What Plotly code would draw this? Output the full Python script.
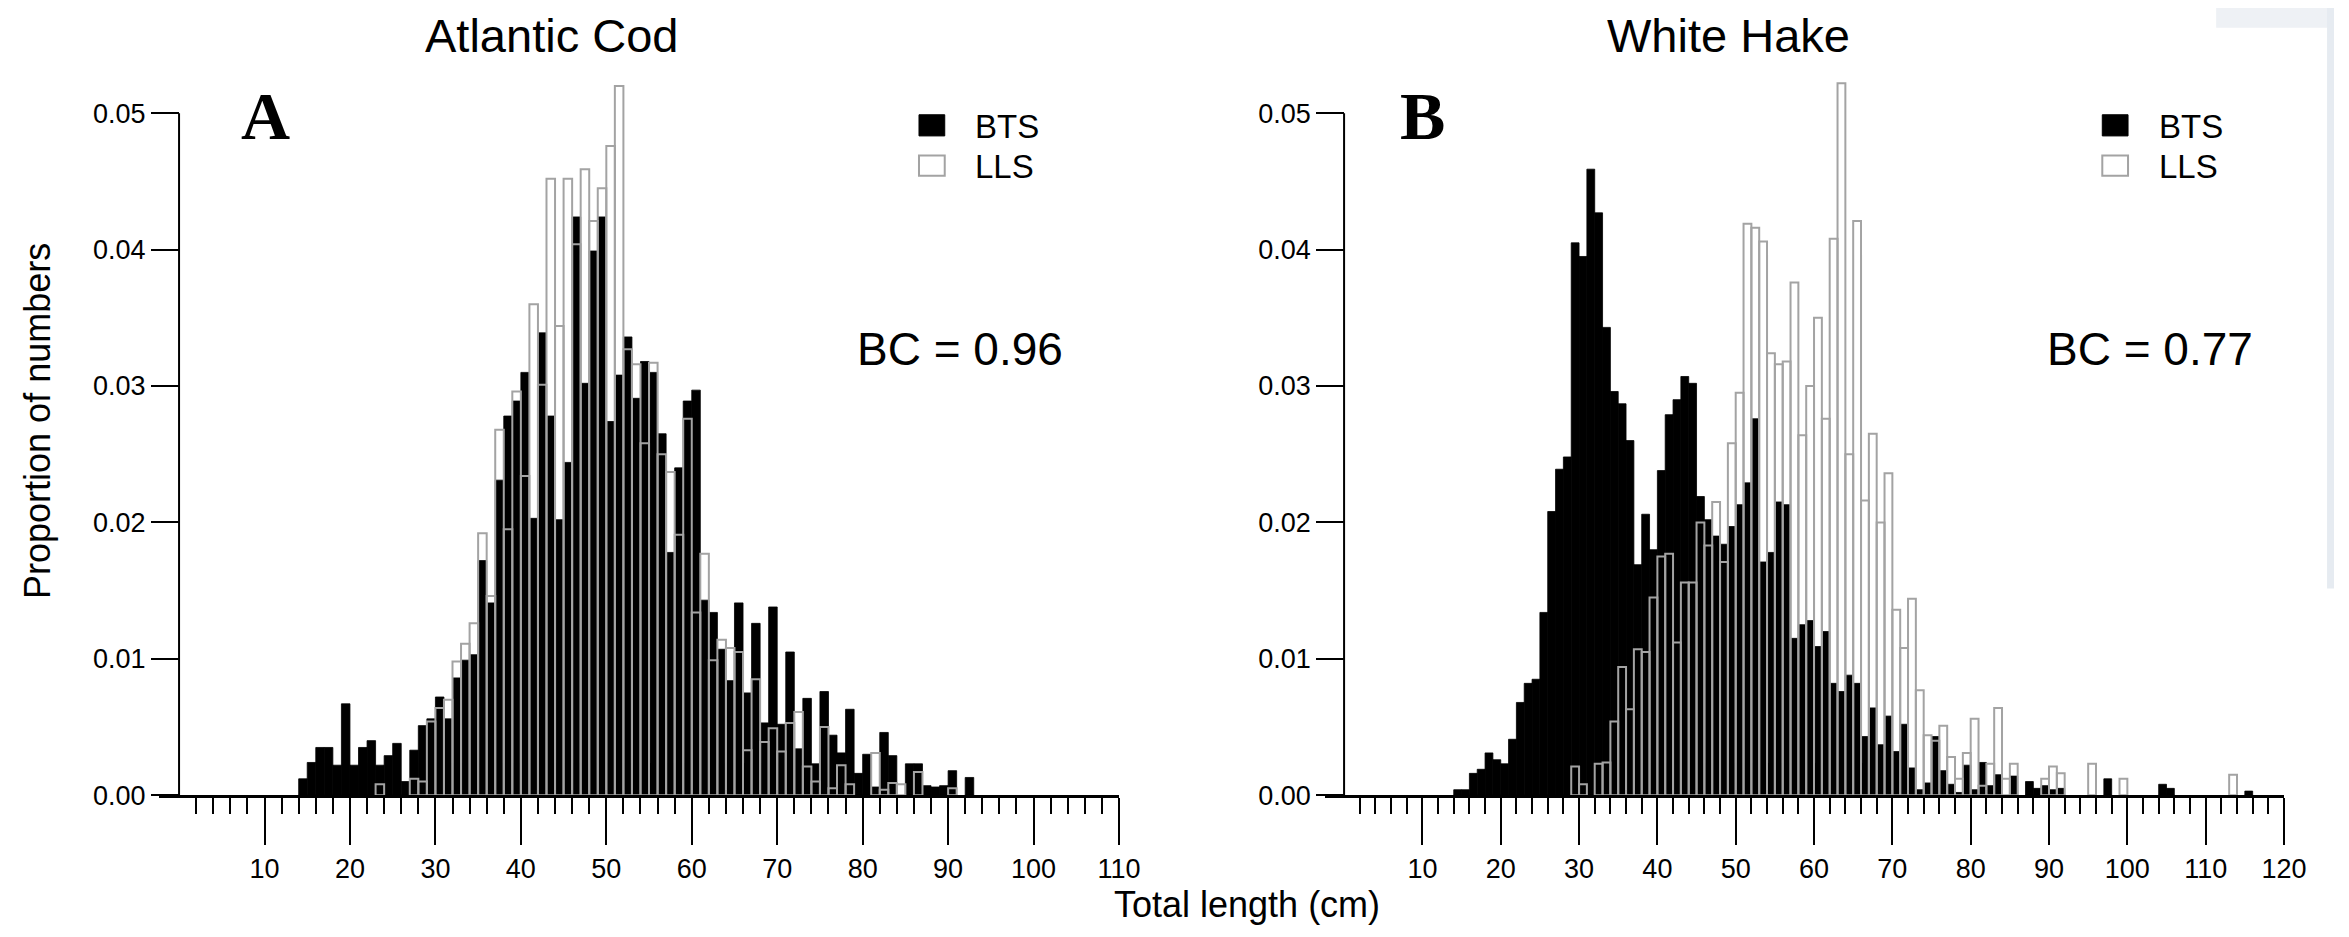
import plotly.graph_objects as go

W, H = 2349, 937

# length bins in cm, each bar spans [L, L+1)
cod_len = list(range(14, 93))
cod_bts = [0.0012, 0.0024, 0.0035, 0.0035, 0.0022, 0.0067, 0.0022, 0.0035, 0.0040, 0.0022,
           0.0029, 0.0038, 0.0010, 0.0033, 0.0051, 0.0056, 0.0072, 0.0056, 0.0086, 0.0099,
           0.0103, 0.0172, 0.0141, 0.0231, 0.0278, 0.0289, 0.0310, 0.0203, 0.0339, 0.0278,
           0.0202, 0.0244, 0.0424, 0.0302, 0.0399, 0.0424, 0.0274, 0.0308, 0.0336, 0.0291,
           0.0318, 0.0310, 0.0265, 0.0178, 0.0240, 0.0289, 0.0297, 0.0143, 0.0134, 0.0107,
           0.0084, 0.0141, 0.0075, 0.0126, 0.0053, 0.0138, 0.0052, 0.0105, 0.0034, 0.0071,
           0.0023, 0.0076, 0.0044, 0.0031, 0.0063, 0.0016, 0.0030, 0.0006, 0.0046, 0.0029,
           0.0, 0.0023, 0.0023, 0.0007, 0.0006, 0.0007, 0.0018, 0.0, 0.0013]
cod_lls = [0, 0, 0, 0, 0, 0, 0, 0, 0, 0.0008,
           0, 0, 0, 0.0012, 0.0010, 0.0054, 0.0064, 0.0070, 0.0098, 0.0111,
           0.0126, 0.0192, 0.0146, 0.0268, 0.0195, 0.0296, 0.0234, 0.0360, 0.0301, 0.0452,
           0.0344, 0.0452, 0.0404, 0.0459, 0.0421, 0.0445, 0.0476, 0.0520, 0.0327, 0.0316,
           0.0258, 0.0317, 0.0250, 0.0237, 0.0191, 0.0276, 0.0134, 0.0177, 0.0099, 0.0114,
           0.0108, 0.0105, 0.0033, 0.0085, 0.0039, 0.0049, 0.0032, 0.0053, 0.0061, 0.0021,
           0.0010, 0.0050, 0.0005, 0.0022, 0.0008, 0, 0, 0.0031, 0.0004, 0.0009,
           0.0008, 0, 0.0017, 0, 0, 0, 0.0005, 0, 0]

hake_len = list(range(14, 116))
hake_bts = [0.0004, 0.0004, 0.0016, 0.0019, 0.0031, 0.0026, 0.0023, 0.0041, 0.0068, 0.0082,
            0.0085, 0.0134, 0.0208, 0.0239, 0.0248, 0.0405, 0.0395, 0.0459, 0.0427, 0.0343,
            0.0296, 0.0287, 0.0260, 0.0169, 0.0206, 0.0180, 0.0238, 0.0279, 0.0290, 0.0307,
            0.0302, 0.0219, 0.0202, 0.0190, 0.0184, 0.0197, 0.0213, 0.0229, 0.0276, 0.0171,
            0.0178, 0.0215, 0.0213, 0.0115, 0.0125, 0.0128, 0.0109, 0.0120, 0.0082, 0.0076,
            0.0088, 0.0082, 0.0043, 0.0064, 0.0037, 0.0058, 0.0032, 0.0052, 0.0020, 0.0004,
            0.0009, 0.0043, 0.0018, 0.0008, 0.0002, 0.0022, 0.0004, 0.0024, 0.0007, 0.0015,
            0, 0.0014, 0, 0.0010, 0.0005, 0.0007, 0.0004, 0.0005, 0, 0,
            0, 0, 0, 0.0012, 0, 0, 0, 0, 0, 0,
            0.0008, 0.0005, 0, 0, 0, 0, 0, 0, 0, 0,
            0, 0.0003]
hake_lls = [0, 0, 0, 0, 0, 0, 0, 0, 0, 0,
            0, 0, 0, 0, 0, 0.0021, 0.0008, 0, 0.0023, 0.0024,
            0.0054, 0.0094, 0.0063, 0.0107, 0.0105, 0.0145, 0.0175, 0.0177, 0.0112, 0.0156,
            0.0156, 0.0200, 0.0183, 0.0215, 0.0171, 0.0258, 0.0295, 0.0419, 0.0416, 0.0406,
            0.0324, 0.0316, 0.0318, 0.0376, 0.0264, 0.0300, 0.0350, 0.0276, 0.0408, 0.0522,
            0.0250, 0.0421, 0.0216, 0.0265, 0.0200, 0.0236, 0.0136, 0.0108, 0.0144, 0.0077,
            0.0044, 0.0040, 0.0051, 0.0028, 0.0012, 0.0031, 0.0056, 0.0007, 0.0023, 0.0064,
            0.0012, 0.0023, 0, 0, 0, 0.0012, 0.0021, 0.0016, 0, 0,
            0, 0.0023, 0, 0, 0, 0.0012, 0, 0, 0, 0,
            0, 0, 0, 0, 0, 0, 0, 0, 0, 0.0015,
            0, 0]

y_ticks = [0, 0.01, 0.02, 0.03, 0.04, 0.05]
titles = ["Atlantic Cod", "White Hake"]
panel_tags = ["A", "B"]
bc_text = ["BC = 0.96", "BC = 0.77"]

FONT = "Liberation Sans, Arial, sans-serif"
GREY = "#a3a3a3"


def fx(p):
    return p / W


def fy(p):
    return 1 - p / H


def nonzero(xs, ys):
    pts = [(x + 0.5, y) for x, y in zip(xs, ys) if y > 0]
    return [p[0] for p in pts], [p[1] for p in pts]


fig = go.Figure()

panels = [
    ("x", "y", cod_len, cod_bts, cod_lls),
    ("x2", "y2", hake_len, hake_bts, hake_lls),
]
for xa, ya, lens, bts, lls in panels:
    bx, by = nonzero(lens, bts)
    fig.add_trace(go.Bar(x=bx, y=by, width=1, xaxis=xa, yaxis=ya,
                         marker=dict(color="black", line=dict(color="black", width=0.8)),
                         showlegend=False))
    lx, ly = nonzero(lens, lls)
    fig.add_trace(go.Bar(x=lx, y=ly, width=1, xaxis=xa, yaxis=ya,
                         marker=dict(color="rgba(0,0,0,0)", line=dict(color=GREY, width=2)),
                         showlegend=False))

# pixel geometry of the two panels
y_dom = [(H - 800) / H, (H - 65.4) / H]
y_top = 0.053


def x_axis(dom, rng, last):
    return dict(domain=dom, range=rng, showline=True, linecolor="black", linewidth=3,
                showgrid=False, zeroline=False, ticks="outside", ticklen=47, tickwidth=2,
                tickcolor="black", tickmode="array",
                tickvals=list(range(10, last + 1, 10)),
                ticktext=[str(v) for v in range(10, last + 1, 10)],
                tickfont=dict(family=FONT, size=27, color="black"),
                minor=dict(tickvals=[v for v in range(2, last + 1, 2) if v % 10],
                           ticks="outside", ticklen=16, tickwidth=2, tickcolor="black",
                           showgrid=False),
                fixedrange=True)


def y_axis(pos):
    return dict(domain=y_dom, range=[0, y_top], anchor="free", position=pos,
                showline=False, showgrid=False, zeroline=False, ticks="outside",
                ticklen=28, tickwidth=2, tickcolor="black", tickmode="array",
                tickvals=y_ticks, ticktext=["%.2f" % v for v in y_ticks],
                tickfont=dict(family=FONT, size=27, color="black"), fixedrange=True)


fig.update_layout(
    width=W, height=H, margin=dict(l=0, r=0, t=0, b=0),
    paper_bgcolor="white", plot_bgcolor="white", barmode="overlay",
    xaxis=x_axis([152.9 / W, 1122 / W], [-2.3, 110], 110),
    xaxis2=x_axis([1330.3 / W, 2298.5 / W], [-2.4, 120], 120),
    yaxis=y_axis(172.7 / W),
    yaxis2=y_axis(1349.3 / W),
)
fig.layout.xaxis.anchor = "y"
fig.layout.xaxis2.anchor = "y2"

shapes = []
ann = []
# y axis lines only up to 0.05
for xr, yr in [("x", "y"), ("x2", "y2")]:
    shapes.append(dict(type="line", xref=xr, yref=yr, x0=0, x1=0, y0=0, y1=0.05,
                       line=dict(color="black", width=2)))

title_x = [549, 1738]
tag_x = [260, 1428]
leg_x = [920, 2115]
bc_x = [961, 2163]
for i in range(2):
    ann.append(dict(text=titles[i], x=fx(title_x[i]), y=fy(28), xref="paper", yref="paper",
                    showarrow=False, xanchor="center", yanchor="middle",
                    font=dict(family=FONT, size=47, color="black")))
    ann.append(dict(text="<b>%s</b>" % panel_tags[i], x=fx(tag_x[i]), y=fy(110),
                    xref="paper", yref="paper", showarrow=False,
                    xanchor="center", yanchor="middle",
                    font=dict(family="Liberation Serif, Times New Roman, serif", size=68,
                              color="black")))
    ann.append(dict(text=bc_text[i], x=fx(bc_x[i]), y=fy(347), xref="paper", yref="paper",
                    showarrow=False, xanchor="center", yanchor="middle",
                    font=dict(family=FONT, size=46, color="black")))
    # legend boxes
    lx0 = leg_x[i]
    shapes.append(dict(type="rect", xref="paper", yref="paper",
                       x0=fx(lx0), x1=fx(lx0 + 26), y0=fy(130), y1=fy(108.5),
                       fillcolor="black", line=dict(color="black", width=1)))
    shapes.append(dict(type="rect", xref="paper", yref="paper",
                       x0=fx(lx0), x1=fx(lx0 + 26), y0=fy(170.5), y1=fy(150),
                       fillcolor="white", line=dict(color=GREY, width=2)))
    for name, yy in [("BTS", 120), ("LLS", 161)]:
        ann.append(dict(text=name, x=fx(lx0 + 55), y=fy(yy), xref="paper", yref="paper",
                        showarrow=False, xanchor="left", yanchor="middle",
                        font=dict(family=FONT, size=33, color="black")))

ann.append(dict(text="Proportion of numbers", x=fx(30), y=fy(420), xref="paper",
                yref="paper", showarrow=False, textangle=-90, xanchor="center",
                yanchor="middle", font=dict(family=FONT, size=36, color="black")))
ann.append(dict(text="Total length (cm)", x=fx(1251), y=fy(911), xref="paper",
                yref="paper", showarrow=False, xanchor="center", yanchor="middle",
                font=dict(family=FONT, size=36, color="black")))

# faint slide background showing at the top right corner of the scan
shapes.append(dict(type="rect", xref="paper", yref="paper", x0=fx(2230), x1=1,
                   y0=fy(20), y1=1, fillcolor="#eef1f5", line=dict(width=0), layer="below"))
shapes.append(dict(type="rect", xref="paper", yref="paper", x0=fx(2342), x1=1,
                   y0=fy(590), y1=1, fillcolor="#e6ebf1", line=dict(width=0), layer="below"))

fig.update_layout(shapes=shapes, annotations=ann)

fig.write_html("out.html")
